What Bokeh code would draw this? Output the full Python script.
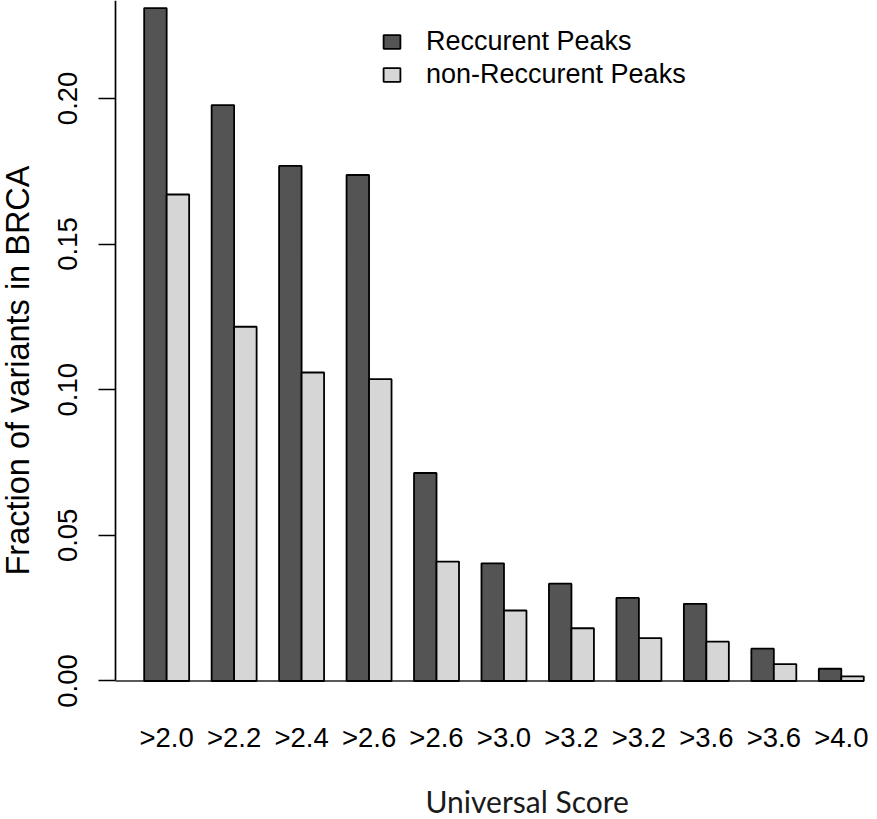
import numpy as np
from bokeh.plotting import figure
from bokeh.models import (Range1d, LinearAxis, FixedTicker, NumeralTickFormatter,
                          Legend, LegendItem, Label)
from bokeh.embed import file_html
from bokeh.resources import INLINE

# ---- data ----
score_labels = [">2.0", ">2.2", ">2.4", ">2.6", ">2.6", ">3.0",
                ">3.2", ">3.2", ">3.6", ">3.6", ">4.0"]
recurrent = [0.2310, 0.1977, 0.1768, 0.1737, 0.0714, 0.0404,
             0.0334, 0.0285, 0.0265, 0.0111, 0.0042]
non_recurrent = [0.1670, 0.1216, 0.1059, 0.1036, 0.0410, 0.0242,
                 0.0181, 0.0147, 0.0135, 0.0058, 0.0016]
series_names = ["Reccurent Peaks", "non-Reccurent Peaks"]
y_ticks = [0.00, 0.05, 0.10, 0.15, 0.20]
x_title = "Universal Score"
y_title = "Fraction of variants in BRCA"

# ---- layout of a beside barplot: bar width 1, gap of 1 between groups ----
n = len(score_labels)
idx = np.arange(n)
rec_x = 1.5 + 3 * idx
non_x = 2.5 + 3 * idx
centers = [int(c) for c in 2 + 3 * idx]
x_axis_pos = -0.276          # where the y axis is drawn (R's usr[1])

DARK = "#545454"
LIGHT = "#d6d6d6"
FONT = "Liberation Sans"
W, H = 877, 819

p = figure(width=W, height=H,
           x_range=Range1d(-5.389, 33.61), y_range=Range1d(-0.04755, 0.2336),
           output_backend="svg", toolbar_location=None,
           x_axis_location=None, y_axis_location=None,
           min_border_left=0, min_border_right=0,
           min_border_top=0, min_border_bottom=0)
p.xgrid.visible = False
p.ygrid.visible = False
p.outline_line_color = None
p.background_fill_color = "white"
p.border_fill_color = "white"

# baseline from the y axis to the right edge of the last bar
p.segment(x0=[x_axis_pos], x1=[3 * n], y0=[0], y1=[0],
          line_color="#222222", line_width=1.3)

r1 = p.vbar(x=rec_x, top=recurrent, bottom=0, width=1,
            fill_color=DARK, line_color="black", line_width=1.8)
r2 = p.vbar(x=non_x, top=non_recurrent, bottom=0, width=1,
            fill_color=LIGHT, line_color="black", line_width=1.8)

# y axis, drawn at the left edge of the bar region
yax = LinearAxis(ticker=FixedTicker(ticks=y_ticks),
                 formatter=NumeralTickFormatter(format="0.00"),
                 bounds=(0, 0.25), fixed_location=x_axis_pos)
yax.axis_line_width = 1.7
yax.major_tick_line_width = 1.7
yax.major_tick_out = 17
yax.major_tick_in = 0
yax.minor_tick_line_color = None
yax.major_label_orientation = "parallel"
yax.major_label_standoff = 21
yax.major_label_text_font = FONT
yax.major_label_text_font_size = "27.5px"
yax.major_label_text_color = "black"
p.add_layout(yax, "left")

# x axis: labels only, hung from the zero line
xax = LinearAxis(ticker=FixedTicker(ticks=centers), fixed_location=0,
                 major_label_overrides={c: lab for c, lab in zip(centers, score_labels)})
xax.axis_line_color = None
xax.major_tick_line_color = None
xax.minor_tick_line_color = None
xax.major_tick_out = 0
xax.major_tick_in = 0
xax.major_label_standoff = 41
xax.major_label_text_font = FONT
xax.major_label_text_font_size = "27.5px"
xax.major_label_text_color = "black"
p.add_layout(xax, "below")

# axis titles (screen offsets from the bottom-left corner)
p.add_layout(Label(x=425, y=19, x_units="screen", y_units="screen",
                   text=x_title, text_font="Lato", text_font_size="30px",
                   text_color="#1a1a1a", text_align="left",
                   text_baseline="alphabetic"))
p.add_layout(Label(x=17, y=244, x_units="screen", y_units="screen",
                   angle=90, angle_units="deg",
                   text=y_title, text_font=FONT, text_font_size="32.5px",
                   text_color="black", text_align="left",
                   text_baseline="alphabetic"))

legend = Legend(items=[LegendItem(label=series_names[0], renderers=[r1]),
                       LegendItem(label=series_names[1], renderers=[r2])],
                location=(381, 728),
                glyph_width=21, glyph_height=17, label_standoff=24,
                spacing=0, padding=0, margin=0, label_height=33,
                border_line_color=None, background_fill_alpha=0,
                label_text_font=FONT, label_text_font_size="27px",
                label_text_color="black")
p.add_layout(legend)

open("out.html", "w").write(file_html(p, INLINE))
